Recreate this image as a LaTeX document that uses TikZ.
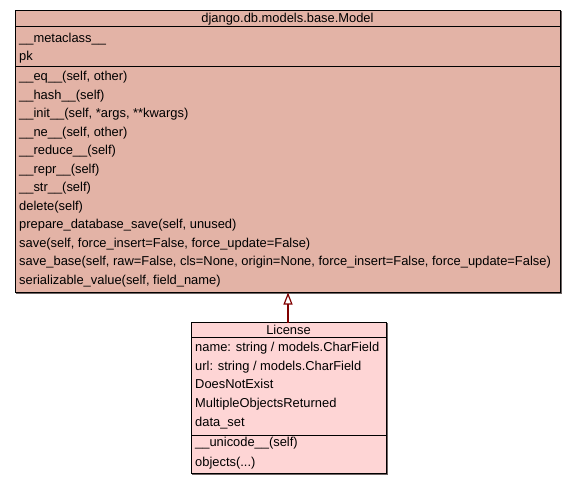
\documentclass[tikz,border=0pt]{standalone}
\usepackage{fontspec}
\setmainfont{Liberation Sans}
\usetikzlibrary{arrows.meta}
\definecolor{modelfill}{RGB}{227,179,166}
\definecolor{licfill}{RGB}{254,213,213}
\definecolor{inherit}{RGB}{128,0,0}
\definecolor{shade}{RGB}{110,100,100}
\begin{document}
\begin{tikzpicture}[x=1pt,y=-1pt,
  umlbox/.style={draw=black, line width=1pt, rectangle, inner sep=0pt, outer sep=0pt, anchor=north west},
  shadowbox/.style={draw=shade, line width=1pt, rectangle, inner sep=0pt, outer sep=0pt, anchor=north west},
  member/.style={anchor=base west, inner sep=0pt, font=\fontsize{12.9}{14}\selectfont},
  title/.style={anchor=base, inner sep=0pt, font=\fontsize{12.9}{14}\selectfont},
  sep/.style={draw=black, line width=1pt}]
\useasboundingbox (0,0) rectangle (576,485);

% base class django.db.models.base.Model
\node[shadowbox, minimum width=545pt, minimum height=282pt] at (16,11.5) {};
\node[umlbox, fill=modelfill, minimum width=545pt, minimum height=282pt] (model) at (15,10.5) {};
\draw[sep] (15,26.5) -- (560,26.5);
\draw[sep] (15,66.5) -- (560,66.5);
\node[title] (modeltitle) at (287.5,22) {django.db.models.base.Model};
\node[member] (m1) at (19,42) {\_\_metaclass\_\_};
\node[member] (m2) at (19,60.5) {pk};
\node[member] (f1) at (19,80.5) {\_\_eq\_\_(self, other)};
\node[member] (f2) at (19,99) {\_\_hash\_\_(self)};
\node[member] (f3) at (19,117.5) {\_\_init\_\_(self, *args, **kwargs)};
\node[member] (f4) at (19,136) {\_\_ne\_\_(self, other)};
\node[member] (f5) at (19,154.5) {\_\_reduce\_\_(self)};
\node[member] (f6) at (19,173) {\_\_repr\_\_(self)};
\node[member] (f7) at (19,191.5) {\_\_str\_\_(self)};
\node[member] (f8) at (19,210) {delete(self)};
\node[member] (f9) at (19,228.5) {prepare\_database\_save(self, unused)};
\node[member] (f10) at (19,247) {save(self, force\_insert=False, force\_update=False)};
\node[member] (f11) at (19,265.5) {save\_base(self, raw=False, cls=None, origin=None, force\_insert=False, force\_update=False)};
\node[member] (f12) at (19,284) {serializable\_value(self, field\_name)};

% subclass License
\node[shadowbox, minimum width=195pt, minimum height=151pt] at (192,323.5) {};
\node[umlbox, fill=licfill, minimum width=195pt, minimum height=151pt] (license) at (191,322.5) {};
\draw[sep] (191,337.5) -- (386,337.5);
\draw[sep] (191,435) -- (386,435);
\node[title] (lictitle) at (288.5,334) {License};
\node[member] (l1) at (195,351) {name: string / models.CharField};
\node[member] (l2) at (195,370) {url: string / models.CharField};
\node[member] (l3) at (195,388.5) {DoesNotExist};
\node[member] (l4) at (195,407.5) {MultipleObjectsReturned};
\node[member] (l5) at (195,426) {data\_set};
\node[member] (l6) at (195,446.5) {\_\_unicode\_\_(self)};
\node[member] (l7) at (195,466) {objects(...)};

% inheritance
\draw[draw=inherit, line width=2.5pt,
  -{Triangle[open, length=12pt, width=9pt, line width=1.2pt, fill=white]}]
  (license.north -| 288,0) -- (model.south -| 288,0);
\end{tikzpicture}
\end{document}
